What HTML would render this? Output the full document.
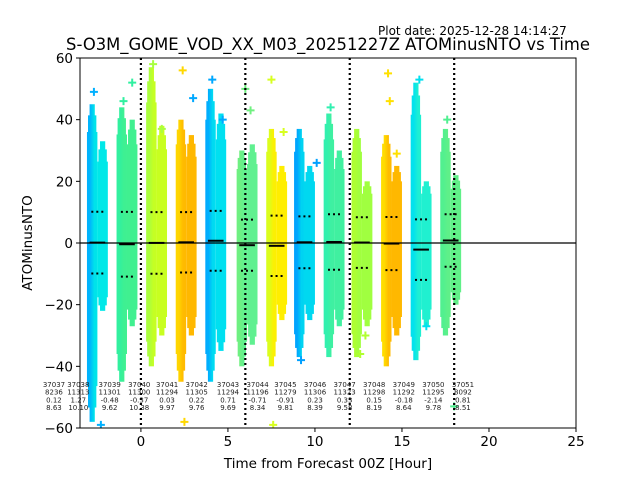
<!DOCTYPE html>
<html><head><meta charset="utf-8"><style>
body{margin:0;background:#fff;}
svg{display:block;font-family:"DejaVu Sans","Liberation Sans",sans-serif;}
</style></head><body>
<svg id="chart" width="640" height="480" viewBox="0 0 640 480">
<rect width="640" height="480" fill="#fff"/>
<text x="378" y="35" font-size="12">Plot date: 2025-12-28 14:14:27</text>
<text x="328" y="50" font-size="16.4" text-anchor="middle">S-O3M_GOME_VOD_XX_M03_20251227Z ATOMinusNTO vs Time</text>
<g id="plot"></g>
<text x="328" y="468" font-size="13.5" text-anchor="middle">Time from Forecast 00Z [Hour]</text>
<text transform="translate(32,243) rotate(-90)" font-size="13.5" text-anchor="middle">ATOMinusNTO</text>
</svg>
<script>
const centers=[-2.5,-0.8,0.9,2.6,4.3,6.1,7.8,9.4,11.1,12.7,14.4,16.1,17.8];
const means=[0.12,-0.4,0.03,0.22,0.71,-0.71,-0.91,0.23,0.33,0.15,-0.18,-2.14,0.81];
const sds=[10.0,10.5,10.0,9.8,9.7,8.3,9.8,8.4,9.0,8.2,8.6,9.8,8.5];
const topL=[45,44,57,40,50,30,37,37,42,37,35,52,37];
const botL=[-58,-45,-40,-45,-45,-40,-40,-37,-37,-37,-40,-38,-30];
const topR=[33,40,38,35,42,32,25,25,30,20,25,20,22];
const botR=[-22,-27,-30,-30,-35,-33,-25,-25,-27,-27,-30,-27,-20];
const colA=["#00b0ff","#30f0a0","#a8ff40","#ffd800","#00a8ff","#70f080","#d8ff20","#00a0ff","#30f0b0","#b0ff30","#ffe000","#00e0f0","#50f090"];
const colB=["#00e8e8","#40f090","#c8ff20","#ffb800","#00e0f0","#60f090","#ffee00","#00d8f0","#40f0a0","#a0ff40","#ffb800","#20f0d0","#60f088"];
const outX=[-2.7,-2.3,-1.0,-0.5,0.7,1.2,2.4,2.5,3.0,4.1,4.7,6.0,6.3,7.5,7.6,8.2,9.2,10.1,10.9,12.6,12.9,14.2,14.3,14.7,16.0,16.4,17.6,18.0];
const outY=[49,-59,46,52,58,37,56,-58,47,53,40,50,43,53,-59,36,-38,26,44,-36,-30,55,46,29,53,-27,40,-53];
const outC=[0,0,1,1,2,2,3,3,4,4,4,5,5,6,6,6,7,7,8,9,9,10,10,10,11,11,12,12];
const yTicks=[-60,-40,-20,0,20,40,60];
const xTicks=[0,5,10,15,20,25];
const vlines=[0,6,12,18];
const ids=["37037","37038","37039","37040","37041","37042","37043","37044","37045","37046","37047","37048","37049","37050","37051"];
const counts=["8236","11313","11301","11300","11294","11305","11294","11196","11279","11306","11323","11298","11292","11295","8092"];
const avgs=["0.12","1.27","-0.48","-0.37","0.03","0.22","0.71","-0.71","-0.91","0.23","0.33","0.15","-0.18","-2.14","0.81"];
const stds=["8.63","10.10","9.62","10.38","9.97","9.76","9.69","8.34","9.81","8.39","9.58","8.19","8.64","9.78","8.51"];
const labelHours=[-5.8,-4.4,-2.6,-0.9,0.7,2.4,4.2,5.9,7.5,9.2,10.9,12.6,14.3,16.0,17.7];

const X0=80,X1=576,Y0=58,Y1=428,xmin=-3.5,xmax=25,ymin=-60,ymax=60;
const sx=v=>X0+(v-xmin)/(xmax-xmin)*(X1-X0);
const sy=v=>Y1-(v-ymin)/(ymax-ymin)*(Y1-Y0);
const NS="http://www.w3.org/2000/svg";
const svg=document.getElementById('chart');
const plot=document.getElementById('plot');
function mk(t,a,p){const e=document.createElementNS(NS,t);for(const k in a)e.setAttribute(k,a[k]);(p||plot).appendChild(e);return e;}
const defs=mk('defs',{},svg);
const clip=mk('clipPath',{id:'clp'},defs);mk('rect',{x:X0,y:Y0,width:X1-X0,height:Y1-Y0},clip);
plot.setAttribute('clip-path','url(#clp)');
function column(x0,x1,top,bot,fill,name){
  const w=x1-x0;
  const segs=[[0,1,0.8],[0.1,0.9,0.92],[0.25,0.75,1]];
  segs.forEach(s=>{
    const r=mk('rect',{x:x0+w*s[0],y:sy(top*s[2]),width:w*(s[1]-s[0]),height:sy(bot*s[2])-sy(top*s[2]),fill:fill});
    
    
  });
}
centers.forEach((c,i)=>{
  const g=mk('linearGradient',{id:'g'+i,x1:'0',x2:'1',y1:'0',y2:'0'},defs);
  mk('stop',{offset:'0','stop-color':colA[i]},g);mk('stop',{offset:'1','stop-color':colB[i]},g);
  column(sx(c-0.6),sx(c),topL[i],botL[i],'url(#g'+i+')','column-left');
  column(sx(c),sx(c+0.6),topR[i],botR[i],colB[i],'column-right');
});
outX.forEach((x,i)=>{
  const px=sx(x),py=sy(outY[i]);
  const p=mk('path',{d:`M${px-4},${py}h8M${px},${py-4}v8`,stroke:colA[outC[i]],'stroke-width':2});
  
  
});
const zl=mk('line',{x1:X0,x2:X1,y1:sy(0),y2:sy(0),stroke:'#000','stroke-width':1.3});


vlines.forEach(v=>{
  const l=mk('line',{x1:sx(v),x2:sx(v),y1:Y0,y2:Y1,stroke:'#000','stroke-width':2.2,'stroke-dasharray':'2,3'});
  
  
});
centers.forEach((c,i)=>{
  const m=mk('line',{x1:sx(c-0.45),x2:sx(c+0.45),y1:sy(means[i]),y2:sy(means[i]),stroke:'#000','stroke-width':2});
  
  
  [1,-1].forEach(s=>{
    const d=mk('line',{x1:sx(c-0.35),x2:sx(c+0.35),y1:sy(means[i]+s*sds[i]),y2:sy(means[i]+s*sds[i]),stroke:'#000','stroke-width':2,'stroke-dasharray':'2,3'});
    
    
  });
});
ids.forEach((id,i)=>{
  const cx=sx(labelHours[i])+14;
  const rows=[id,counts[i],avgs[i],stds[i]];
  rows.forEach((t,k)=>{
    const e=mk('text',{x:cx,y:387+k*7.7,'font-size':7,'text-anchor':'middle',fill:'#222'},svg);
    e.textContent=t;
    
    
  });
});
const frame=mk('rect',{x:X0,y:Y0,width:X1-X0,height:Y1-Y0,fill:'none',stroke:'#000','stroke-width':1},svg);


yTicks.forEach(v=>{
  mk('line',{x1:X0-4,x2:X0,y1:sy(v),y2:sy(v),stroke:'#000'},svg);
  const t=mk('text',{x:X0-7,y:sy(v)+5,'font-size':13.5,'text-anchor':'end'},svg);
  t.textContent=v<0?'\u2212'+(-v):v;
  
  
});
xTicks.forEach(v=>{
  mk('line',{x1:sx(v),x2:sx(v),y1:Y1,y2:Y1+4,stroke:'#000'},svg);
  const t=mk('text',{x:sx(v),y:Y1+18,'font-size':13.5,'text-anchor':'middle'},svg);
  t.textContent=v;
  
  
});
</script>
</body></html>
